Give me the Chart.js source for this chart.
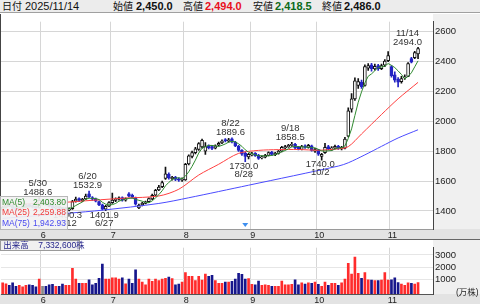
<!DOCTYPE html>
<html>
<head>
<meta charset="utf-8">
<script src="https://cdn.jsdelivr.net/npm/chart.js@4.4.1/dist/chart.umd.min.js"></script>
<style>
  body { margin: 0; width: 480px; height: 304px; position: relative; overflow: hidden; background: #fff;
         font-family: "Liberation Sans", "Noto Sans CJK JP", sans-serif; }
  .abs { position: absolute; white-space: nowrap; }
  #hdr { left: 0; top: 0; width: 480px; height: 12px; background: #ececec; border-bottom: 1px solid #a0a0a0; }
  #hdr span { position: absolute; top: 0; line-height: 13px; color: #111; }
  #hdr .k { font-size: 10px; }
  #hdr .v { font-size: 11px; font-weight: bold; }
  #main { left: 0; top: 14px; }
  #vol { left: 0; top: 240px; }
  #leg { left: 0; top: 196px; width: 66px; height: 32px; background: rgba(242,242,242,0.92); border: 1px solid #b8b8b8; font-size: 8.5px; }
  #leg div { position: absolute; left: 1px; width: 64px; height: 11px; line-height: 11px; }
  #leg b { font-weight: normal; position: absolute; right: 0; }
  #vlab { left: 0; top: 240px; width: 78px; height: 9px; background: #f0f0f0; border: 1px solid #9a9a9a; color: #24248a; font-size: 8.5px; line-height: 9px; }
</style>
</head>
<body>
<div id="hdr" class="abs">
  <span class="k" style="left:2px">日付</span>
  <span style="left:25px;font-size:11px">2025/11/14</span>
  <span class="k" style="left:113px">始値</span>
  <span class="v" style="left:136px">2,450.0</span>
  <span class="k" style="left:183px">高値</span>
  <span class="v" style="left:205px;color:#e8101c">2,494.0</span>
  <span class="k" style="left:253px">安値</span>
  <span class="v" style="left:275px;color:#0d6a1a">2,418.5</span>
  <span class="k" style="left:322px">終値</span>
  <span class="v" style="left:344px">2,486.0</span>
</div>
<div id="main" class="abs"><canvas id="priceChart" width="480" height="226"></canvas></div>
<div class="abs" style="left:0;top:239px;width:480px;height:1px;background:#666"></div>
<div id="vol" class="abs"><canvas id="volChart" width="480" height="64"></canvas></div>
<div class="abs" style="left:0;top:14px;width:1px;height:215px;background:#444"></div>
<div id="leg" class="abs">
  <div style="top:0;color:#2e8b2e">MA(5)<b>2,403.80</b></div>
  <div style="top:10px;color:#f03a3a">MA(25)<b>2,259.88</b></div>
  <div style="top:21px;color:#4a4af0">MA(75)<b>1,942.93</b></div>
</div>
<div id="vlab" class="abs">&nbsp;出来高&nbsp;&nbsp;&nbsp;&nbsp;7,332,600株</div>
<div class="abs" style="left:456px;top:285px;font-size:8.5px;color:#222">(万株)</div>

<script>
// ── data ───────────────────────────────────────────────
const dates = [
  '5/15','5/16','5/19','5/20','5/21','5/22','5/23','5/26','5/27','5/28','5/29','5/30',
  '6/2','6/3','6/4','6/5','6/6','6/9','6/10','6/11','6/12','6/13','6/16','6/17','6/18','6/19','6/20','6/23','6/24','6/25','6/26','6/27','6/30',
  '7/1','7/2','7/3','7/4','7/7','7/8','7/9','7/10','7/11','7/14','7/15','7/16','7/17','7/18','7/22','7/23','7/24','7/25','7/28','7/29','7/30','7/31',
  '8/1','8/4','8/5','8/6','8/7','8/8','8/12','8/13','8/14','8/15','8/18','8/19','8/20','8/21','8/22','8/25','8/26','8/27','8/28','8/29',
  '9/1','9/2','9/3','9/4','9/5','9/8','9/9','9/10','9/11','9/12','9/16','9/17','9/18','9/19','9/22','9/24','9/25','9/26','9/29','9/30',
  '10/1','10/2','10/3','10/6','10/7','10/8','10/9','10/10','10/14','10/15','10/16','10/17','10/20','10/21','10/22','10/23','10/24','10/27','10/28','10/29','10/30','10/31',
  '11/4','11/5','11/6','11/7','11/10','11/11','11/12','11/13','11/14'
]

const opens = [
  1410,1425,1442,1435,1420,1410,1420,1428,1442,1436,1428,1420,
  1460,1458,1448,1435,1418,1430,1420,1408,1405,1415,1465,1482,1468,1480,1515,1490,1480,1462,1440,1412,1432,
  1455,1470,1478,1490,1472,1515,1505,1488,1420,1440,1450,1462,1480,1505,1540,1562,1618,1645,1615,1625,1615,1605,
  1608,1715,1765,1790,1812,1828,1800,1835,1830,1820,1840,1855,1878,1866,1882,1860,1832,1805,1785,1762,
  1775,1785,1772,1755,1760,1772,1792,1776,1785,1800,1822,1830,1838,1845,1825,1812,1835,1825,1835,1800,
  1808,1765,1790,1830,1812,1820,1832,1815,1820,1900,2080,2150,2240,2262,2240,2355,2378,2350,2372,2352,2375,2405,
  2365,2310,2282,2265,2290,2300,2420,2425,2450
]
const highs = [
  1432,1448,1450,1440,1425,1428,1435,1446,1448,1440,1432,1488.6,
  1472,1462,1452,1440,1434,1434,1424,1422,1420,1470,1492,1488,1485,1512,1532.9,1496,1486,1466,1445,1438,1462,
  1520,1488,1495,1494,1488,1522,1512,1492,1446,1458,1466,1488,1512,1545,1572,1600,1693,1655,1632,1632,1622,1622,
  1718,1775,1800,1825,1858,1880,1858,1842,1838,1842,1860,1875,1884,1885,1889.6,1866,1838,1810,1795,1785,
  1792,1790,1778,1768,1778,1796,1798,1792,1806,1832,1838,1845,1858.5,1852,1832,1838,1842,1845,1840,1818,
  1812,1785,1853,1838,1830,1840,1838,1832,1892,2090,2185,2290,2285,2275,2378,2385,2388,2382,2380,2382,2412,2466,
  2372,2330,2292,2300,2310,2392,2428,2468,2494
]
const lows = [
  1405,1420,1428,1412,1402,1406,1416,1424,1426,1420,1412,1418,
  1448,1436,1425,1412,1410,1410,1402,1403,1400.3,1410,1458,1462,1462,1475,1488,1470,1460,1435,1405,1401.9,1428,
  1450,1462,1472,1466,1465,1494,1485,1438,1415,1434,1446,1458,1476,1500,1535,1555,1610,1612,1605,1602,1598,1598,
  1604,1708,1755,1782,1805,1820,1778,1815,1810,1815,1835,1850,1862,1860,1855,1830,1798,1772,1730,1748,
  1768,1764,1745,1748,1755,1768,1772,1770,1780,1795,1815,1825,1832,1815,1808,1808,1818,1820,1800,1792,
  1772,1740,1785,1808,1805,1815,1812,1808,1815,1895,2060,2140,2220,2220,2235,2340,2335,2342,2340,2345,2365,2398,
  2295,2262,2230,2255,2280,2298,2390,2418,2418.5
]
const closes = [
  1425,1440,1432,1418,1410,1422,1430,1440,1432,1425,1418,1470,
  1460,1442,1430,1420,1428,1418,1408,1416,1412,1462,1480,1470,1478,1500,1495,1478,1465,1440,1412,1430,1455,
  1472,1480,1488,1472,1482,1498,1490,1445,1438,1452,1460,1482,1505,1538,1560,1590,1648,1620,1625,1610,1605,1615,
  1712,1768,1790,1815,1850,1872,1830,1822,1818,1835,1852,1868,1868,1876,1862,1835,1805,1780,1765,1778,
  1782,1770,1752,1762,1772,1790,1778,1785,1800,1825,1830,1838,1845,1822,1815,1830,1825,1838,1805,1810,
  1780,1778,1825,1815,1822,1832,1818,1825,1880,2070,2150,2270,2265,2232,2365,2372,2352,2368,2350,2372,2402,2440,
  2305,2275,2262,2285,2295,2385,2395,2460,2486
]
// volume, 万株
const volumes = [
  704,634,493,704,423,493,376,493,540,493,376,1009,
  423,423,540,587,423,423,610,493,493,1901,1009,657,657,657,962,540,657,1080,2254,1009,1009,
  1127,1127,1009,1127,620,1009,657,1784,1009,775,540,1009,822,1009,892,1009,1080,1174,1056,540,610,775,
  1549,1244,1244,892,1244,939,1432,1244,1315,892,657,657,775,775,822,1009,1479,1400,1009,1056,
  587,540,845,493,540,493,423,423,423,845,540,540,587,962,540,704,610,704,657,775,
  587,423,775,493,657,657,493,704,1009,2300,1432,2817,1479,1080,1549,962,939,892,892,939,1549,939,
  962,1127,727,610,493,704,657,610,733.26
]
const ma5 = [
  1418,1425,1430,1428,1425,1424,1422,1424,1427,1430,1429,1437,
  1441,1443,1444,1444,1436,1428,1421,1418,1416,1423,1436,1448,1460,1478,1485,1484,1483,1476,1458,1445,1440,
  1442,1450,1465,1473,1479,1484,1486,1477,1471,1465,1457,1455,1467,1487,1509,1535,1568,1591,1609,1619,1622,1615,
  1633,1662,1698,1740,1787,1819,1831,1838,1838,1835,1831,1839,1848,1860,1865,1862,1849,1832,1809,1793,
  1782,1775,1769,1769,1768,1769,1771,1777,1785,1796,1804,1816,1828,1832,1830,1830,1827,1826,1823,1822,
  1812,1802,1800,1802,1804,1814,1822,1822,1835,1885,1949,2039,2127,2197,2256,2301,2317,2338,2361,2363,2369,2386,
  2374,2359,2337,2313,2284,2300,2324,2364,2404
]
// MA25 / MA75 at these trading-day positions
const ma25At  = [0, 10, 19, 27, 37, 47, 53, 59, 65, 71, 77, 83, 89, 95, 101, 104, 108, 114, 119, 125]
const ma25Val = [1445,1450,1458,1471,1486,1500,1545,1640,1712,1785,1805,1810,1811,1806,1815,1830,1915,2045,2150,2260]
const ma75At  = [0, 20, 30, 47, 56, 74, 101, 104, 109, 114, 119, 125]
const ma75Val = [1350,1385,1405,1450,1488,1572,1700,1722,1775,1832,1888,1943]

const monthStart  = [12, 33, 55, 75, 95, 117]
const monthLabels = ['6', '7', '8', '9', '10', '11']
const priceTicks  = [1400, 1600, 1800, 2000, 2200, 2400, 2600]
const volTicks    = [1000, 2000, 3000]

const markDates = ['5/30','6/12','6/20','6/27','8/22','8/28','9/18','10/2','11/14']
const markVals  = [1488.6, 1400.3, 1532.9, 1401.9, 1889.6, 1730.0, 1858.5, 1740.0, 2494.0]
const markKinds = ['H','L','H','L','H','L','H','L','H']
const eventDates = ['8/28']

const SLOTS = 130
const UP = '#ffffff', DOWN = '#2323c4', EDGE = '#111111'

// ── helpers ────────────────────────────────────────────
const dir = i => closes[i] > opens[i] ? 1 : (closes[i] < opens[i] ? -1 : 0)
const xAt = i => i + 0.5

const panelBg = {
  id: 'panelBg',
  beforeDraw(chart) {
    const { ctx, chartArea: a, width, height } = chart
    ctx.save()
    ctx.fillStyle = '#f0f0f0'
    ctx.fillRect(a.right, 0, width - a.right, a.bottom)
    ctx.fillStyle = '#e3e3e3'
    ctx.fillRect(0, a.bottom, width, height - a.bottom)
    ctx.restore()
  }
}

const peakLabels = {
  id: 'peakLabels',
  afterDatasetsDraw(chart) {
    const { ctx, scales: { x, y }, chartArea } = chart
    ctx.save()
    ctx.font = '9.5px "Liberation Sans"'
    ctx.fillStyle = '#333'
    ctx.textAlign = 'center'
    ctx.textBaseline = 'middle'
    markDates.forEach((d, k) => {
      const v = markVals[k]
      const txt = v.toFixed(1)
      const w = Math.max(ctx.measureText(txt).width, ctx.measureText(d).width)
      let px = x.getPixelForValue(xAt(dates.indexOf(d))) - 1.5
      px = Math.min(px, chartArea.right - 11 - w / 2)
      const py = y.getPixelForValue(v)
      if (markKinds[k] === 'H') {
        ctx.fillText(d, px, py - 14.5)
        ctx.fillText(txt, px, py - 5.5)
      } else {
        ctx.fillText(txt, px, py + 4.5)
        ctx.fillText(d, px, py + 12.5)
      }
    })
    // event marker
    ctx.fillStyle = '#3d8ff0'
    eventDates.forEach(d => {
      const px = x.getPixelForValue(xAt(dates.indexOf(d)))
      const py = chartArea.bottom - 6
      ctx.beginPath()
      ctx.moveTo(px - 3, py)
      ctx.lineTo(px + 3, py)
      ctx.lineTo(px, py + 4)
      ctx.closePath()
      ctx.fill()
    })
    ctx.restore()
  }
}

const xAxis = (height) => ({
  type: 'linear', min: 0, max: SLOTS, offset: false,
  afterBuildTicks: s => { s.ticks = monthStart.map(v => ({ value: v })) },
  afterFit: s => { s.height = height },
  ticks: {
    autoSkip: false, maxRotation: 0, padding: 1, labelOffset: 2.5,
    color: '#222', font: { size: 9, family: 'Liberation Sans' },
    callback: (v) => monthLabels[monthStart.indexOf(v)]
  },
  grid: { color: '#d6d6d6', drawTicks: false, offset: false },
  border: { color: '#9a9a9a' }
})

const yTicks = { padding: 2, color: '#222', font: { size: 9.5, family: 'Liberation Sans' }, callback: v => String(v) }

// ── price chart ────────────────────────────────────────
const priceChart = new Chart(document.getElementById('priceChart'), {
  type: 'bar',
  data: {
    datasets: [
      {
        label: 'wick', order: 5, grouped: false, barThickness: 1,
        data: dates.map((d, i) => ({ x: xAt(i), y: [lows[i], highs[i]] })),
        backgroundColor: dates.map((d, i) => dir(i) < 0 ? DOWN : EDGE)
      },
      {
        label: 'body', order: 4, grouped: false, barThickness: 3, minBarLength: 1,
        borderWidth: 1, borderSkipped: false,
        data: dates.map((d, i) => ({ x: xAt(i), y: [opens[i], closes[i]] })),
        backgroundColor: dates.map((d, i) => dir(i) < 0 ? DOWN : UP),
        borderColor: dates.map((d, i) => dir(i) < 0 ? DOWN : EDGE)
      },
      {
        type: 'line', label: 'MA(75)', order: 3,
        data: ma75At.map((i, k) => ({ x: xAt(i), y: ma75Val[k] })),
        borderColor: '#4b4bff', borderWidth: 1, pointRadius: 0, tension: 0.3
      },
      {
        type: 'line', label: 'MA(25)', order: 2,
        data: ma25At.map((i, k) => ({ x: xAt(i), y: ma25Val[k] })),
        borderColor: '#ff4040', borderWidth: 1, pointRadius: 0, tension: 0.3
      },
      {
        type: 'line', label: 'MA(5)', order: 1,
        data: ma5.map((v, i) => ({ x: xAt(i), y: v })),
        borderColor: '#2f8a2f', borderWidth: 1, pointRadius: 0, tension: 0
      }
    ]
  },
  options: {
    responsive: false, animation: false,
    layout: { padding: { left: 1, right: 0, top: 0, bottom: 0 } },
    plugins: { legend: { display: false }, tooltip: { enabled: false } },
    scales: {
      x: xAxis(11),
      y: {
        position: 'right', min: 1279, max: 2666,
        afterBuildTicks: s => { s.ticks = priceTicks.map(v => ({ value: v })) },
        afterFit: s => { s.width = 47 },
        ticks: yTicks,
        grid: { color: '#d6d6d6', drawTicks: false },
        border: { color: '#444' }
      }
    }
  },
  plugins: [panelBg, peakLabels]
})

// ── volume chart ───────────────────────────────────────
const volChart = new Chart(document.getElementById('volChart'), {
  type: 'bar',
  data: {
    datasets: [{
      label: '出来高', grouped: false, barThickness: 2, base: -211,
      data: volumes.map((v, i) => ({ x: xAt(i), y: v })),
      backgroundColor: dates.map((d, i) => dir(i) > 0 ? '#ff2b2b' : (dir(i) < 0 ? '#16168c' : '#888888'))
    }]
  },
  options: {
    responsive: false, animation: false,
    layout: { padding: { left: 1, right: 0, top: 0, bottom: 0 } },
    plugins: { legend: { display: false }, tooltip: { enabled: false } },
    scales: {
      x: { ...xAxis(10), border: { color: '#555' } },
      y: {
        position: 'right', min: -211, max: 3592,
        afterBuildTicks: s => { s.ticks = volTicks.map(v => ({ value: v })) },
        afterFit: s => { s.width = 47 },
        ticks: yTicks,
        grid: { color: '#e6e6e6', drawTicks: false },
        border: { color: '#444' }
      }
    }
  },
  plugins: [panelBg]
})
</script>
</body>
</html>
